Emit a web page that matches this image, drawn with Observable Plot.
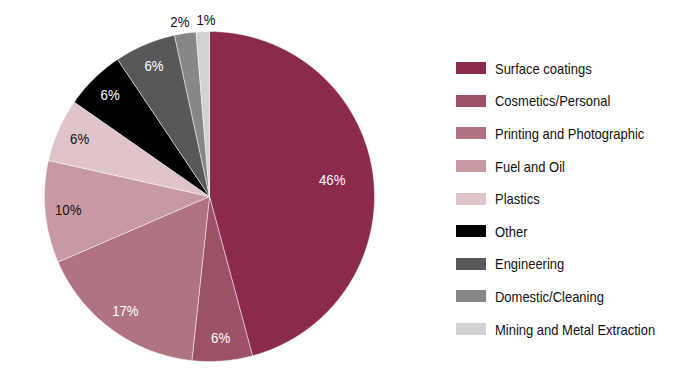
<!DOCTYPE html>
<html>
<head>
<meta charset="utf-8">
<script src="https://cdn.jsdelivr.net/npm/d3@7"></script>
<script src="https://cdn.jsdelivr.net/npm/@observablehq/plot@0.6"></script>
<style>
  html, body { margin: 0; padding: 0; background: #fff; }
  #wrap { position: relative; width: 700px; height: 380px; font-family: "Liberation Sans", Arial, sans-serif; }
  #chart { position: absolute; left: 0; top: 0; }
  #legend { position: absolute; left: 456px; top: 52px; }
  .row { display: flex; align-items: center; height: 32.6px; font-size: 15px; color: #111; white-space: nowrap; }
  .sw { width: 30px; height: 12px; margin-right: 9px; flex: none; }
  .row span { display: inline-block; transform: scaleX(0.865); transform-origin: left center; }
</style>
</head>
<body>
<div id="wrap"><div id="chart"></div><div id="legend"></div></div>
<script>
const categories = ["Surface coatings", "Cosmetics/Personal", "Printing and Photographic", "Fuel and Oil", "Plastics", "Other", "Engineering", "Domestic/Cleaning", "Mining and Metal Extraction"];
const shares = [45.8, 5.9, 16.8, 10.0, 6.2, 5.9, 6.0, 2.1, 1.3];
const colors = ["#8b2a4c", "#9d5166", "#b07381", "#c79aa3", "#dfc4c9", "#000000", "#58585a", "#87878a", "#d1d2d4"];
const labelColors = ["#fff", "#fff", "#fff", "#111", "#111", "#fff", "#fff", "#111", "#111"];

const total = d3.sum(shares);
const pie = d3.pie().sort(null).value(d => d)(shares);

// Slice outlines in unit-circle coordinates (angle 0 at top, clockwise)
const pts = [];
pie.forEach((p, i) => {
  const cat = categories[i];
  pts.push({cat, x: 0, y: 0});
  const n = Math.max(4, Math.ceil((p.endAngle - p.startAngle) / (Math.PI / 360)));
  for (let k = 0; k <= n; k++) {
    const a = p.startAngle + (p.endAngle - p.startAngle) * k / n;
    pts.push({cat, x: Math.sin(a), y: Math.cos(a)});
  }
  pts.push({cat, x: 0, y: 0});
});

const labels = pie.map((p, i) => {
  const a = (p.startAngle + p.endAngle) / 2;
  const share = shares[i] / total * 100;
  const outside = share < 3;
  const r = share > 40 ? 0.75 : outside ? 1.07 : 0.86;
  return {cat: categories[i], text: Math.round(share) + "%", x: r * Math.sin(a), y: r * Math.cos(a), color: labelColors[i], outside};
});
// push overlapping outside labels apart horizontally
const outs = labels.filter(d => d.outside).sort((a, b) => a.x - b.x);
const minGap = 0.158;
for (let k = 1; k < outs.length; k++) {
  const gap = outs[k].x - outs[k - 1].x;
  if (gap < minGap) {
    const s = (minGap - gap) / 2;
    outs[k - 1].x -= s;
    outs[k].x += s;
  }
}

const chart = Plot.plot({
  width: 700,
  height: 380,
  marginLeft: 44,
  marginRight: 326,
  marginTop: 31,
  marginBottom: 19,
  x: {domain: [-1, 1], axis: null},
  y: {domain: [-1, 1], axis: null},
  color: {domain: categories, range: colors},
  style: {fontFamily: "'Liberation Sans', Arial, sans-serif", background: "transparent", overflow: "visible"},
  marks: [
    Plot.line(pts, {x: "x", y: "y", z: "cat", fill: "cat", stroke: "#fff", strokeWidth: 0.6, strokeOpacity: 0.8, curve: "linear"}),
    Plot.text(labels, {x: "x", y: "y", text: "text", fill: "color", fontSize: 15})
  ]
});
document.getElementById("chart").appendChild(chart);
// condense the label glyphs to mimic the narrow typeface
chart.querySelectorAll("text").forEach(t => {
  const w = t.getComputedTextLength();
  if (w > 0) {
    t.setAttribute("textLength", (w * 0.88).toFixed(2));
    t.setAttribute("lengthAdjust", "spacingAndGlyphs");
  }
});

const legend = document.getElementById("legend");
categories.forEach((c, i) => {
  const row = document.createElement("div");
  row.className = "row";
  const sw = document.createElement("div");
  sw.className = "sw";
  sw.style.background = colors[i];
  const t = document.createElement("span");
  t.textContent = c;
  row.appendChild(sw);
  row.appendChild(t);
  legend.appendChild(row);
});
</script>
</body>
</html>
